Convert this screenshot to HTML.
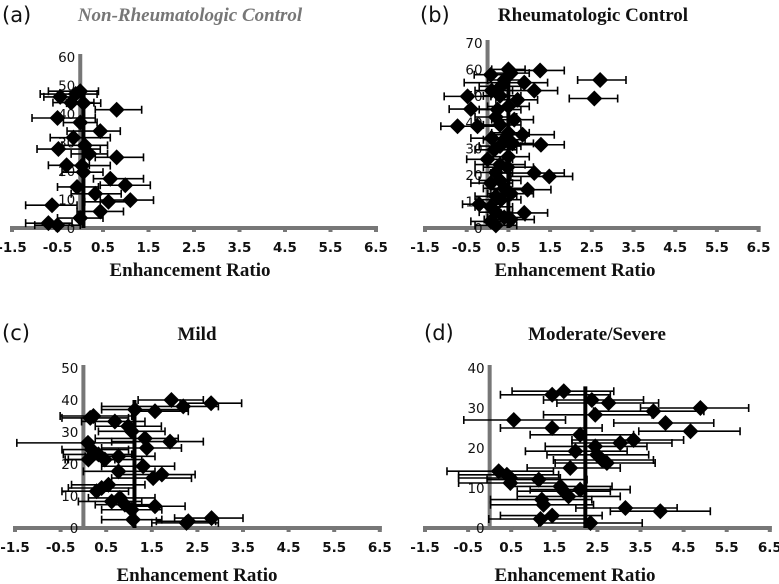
<!DOCTYPE html>
<html><head><meta charset="utf-8"><style>
html,body{margin:0;padding:0;background:#fff;width:779px;height:584px;overflow:hidden}
svg{display:block}
.tk{font-family:"DejaVu Sans","Liberation Sans",sans-serif;font-size:13.5px;fill:#111}
.xt{font-weight:bold}
.ttl{font-family:"Liberation Serif",serif;font-weight:bold;font-size:19px}
.lt{font-family:"DejaVu Sans","Liberation Sans",sans-serif;font-size:21px;fill:#111}
</style></head><body>
<svg id="fig" width="779" height="584" viewBox="0 0 779 584" xmlns="http://www.w3.org/2000/svg">
<text class="lt" x="2" y="22">(a)</text>
<text class="ttl" x="190" y="21" text-anchor="middle" fill="#777" font-style="italic">Non-Rheumatologic Control</text>
<text class="lt" x="420" y="22">(b)</text>
<text class="ttl" x="593" y="21" text-anchor="middle" fill="#111">Rheumatologic Control</text>
<text class="lt" x="2" y="340">(c)</text>
<text class="ttl" x="197" y="340" text-anchor="middle" fill="#111">Mild</text>
<text class="lt" x="424" y="340">(d)</text>
<text class="ttl" x="597" y="340" text-anchor="middle" fill="#111">Moderate/Severe</text>
<text class="ttl" x="190" y="276" text-anchor="middle" fill="#111">Enhancement Ratio</text>
<text class="ttl" x="575" y="276" text-anchor="middle" fill="#111">Enhancement Ratio</text>
<text class="ttl" x="197" y="581" text-anchor="middle" fill="#111">Enhancement Ratio</text>
<text class="ttl" x="575" y="581" text-anchor="middle" fill="#111">Enhancement Ratio</text>
</svg>
<script>
const xTickLabels = ["-1.5","-0.5","0.5","1.5","2.5","3.5","4.5","5.5","6.5"];
const xTickValues = [-1.5,-0.5,0.5,1.5,2.5,3.5,4.5,5.5,6.5];

const aY  = [41.5,47,38.6,27.7,24.8,34,31.7,37,21.9,17.3,15,9.8,9.2,12,5.8,8,1.7,3.5,14.4,19.6,22,43.8,46,1,48,44,29,26];
const aX  = [0.8,-0.1,-0.5,-0.48,0.8,0.44,-0.15,0,0.04,0.66,0.99,1.1,0.62,0.33,0.44,-0.62,-0.7,0,-0.07,0.07,-0.3,0.07,-0.44,-0.5,0,-0.2,0.1,0.2];
const aLo = [0.33,-0.88,-1.06,-0.95,0.33,-0.29,-0.66,-0.37,-0.37,0.29,0.44,0.44,0.1,-0.2,-0.07,-1.2,-1.2,-0.5,-0.5,-0.4,-0.7,-0.3,-0.8,-1.0,-0.7,-0.6,-0.4,-0.2];
const aHi = [1.35,0.37,0.33,0.44,1.39,0.88,0.66,0.37,0.66,1.39,1.54,1.61,1.1,0.9,0.95,-0.07,-0.18,0.5,0.4,0.5,0.2,0.45,0.1,0.0,0.4,0.3,0.6,0.6];
const aMean = 0.07, aMeanTop = 48;

const bY  = [59.6,56,49,55,52,49.8,45,38.5,38.5,35.3,31.5,20.8,19.5,14.5,58,58.6,2.5,3.2,5.7,10.7,29.6,33.4,44.8,41,26,23,17,13,8,48.5,53.6,9,1,4,6,12,15,18,21,24,27,31,34,36,39,42,46,50,52,56,60,32];
const bX  = [1.26,2.7,2.56,0.88,1.12,-0.48,-0.4,-0.72,-0.24,0.84,1.28,1.12,1.48,0.96,0.08,0.56,0.08,0.56,0.88,0.32,0.16,0.4,0.24,0.64,0,0.48,0.08,0.56,0.08,0.72,0.32,-0.2,0.2,0.4,0.2,0.2,0.4,0.3,0.2,0.3,0.5,0.3,0.1,0.5,0.3,0.2,0.5,0.3,0.1,0.4,0.5,0.6];
const bLo = [0.56,2.16,1.96,-0.56,0.08,-1.04,-0.92,-1.12,-0.7,0.08,0.32,0.08,0.56,0.08,-0.32,0.1,-0.4,-0.08,0.32,-0.2,-0.3,-0.1,-0.2,0.1,-0.5,-0.1,-0.4,0,-0.3,0.2,-0.2,-0.6,-0.3,0,-0.2,-0.3,-0.1,-0.2,-0.3,-0.3,0,-0.2,-0.4,0.1,-0.1,-0.3,0,-0.1,-0.3,0,0.1,0.2];
const bHi = [1.84,3.32,3.12,1.44,1.68,0.08,0.32,-0.24,0.3,1.6,1.84,1.84,2.04,1.52,0.48,1.0,0.5,1.12,1.44,0.8,0.7,0.9,0.8,1.1,0.6,1.1,0.6,1.1,0.6,1.2,0.8,0.3,0.7,0.9,0.6,0.7,0.9,0.8,0.6,0.9,1.0,0.8,0.5,1.0,0.8,0.7,1.0,0.8,0.6,0.9,0.9,1.1];
const bMean = 0.5, bMeanTop = 61;

const cY  = [40,39,38,37,36.5,35,34.4,33.3,31.8,30.2,28,27,26.6,25,24.5,23,22.4,21.4,21.4,19.3,17.7,16.7,15.6,13.5,12.5,11.5,9.4,8.3,7.3,6.8,5.7,2.6,3.1,1.6,2.1];
const cX  = [1.93,2.8,2.19,1.13,1.57,0.22,0.15,0.69,0.98,1.06,1.35,1.9,0.1,1.39,0.18,0.33,0.77,0.11,0.47,1.31,0.77,1.72,1.53,0.55,0.4,0.29,0.8,0.62,0.91,1.57,1.06,1.09,2.81,2.26,2.3];
const cLo = [1.2,2.12,0.4,0.4,1.06,-0.51,-0.47,-0.04,0.26,0.33,0.26,0.62,-1.46,0.4,-0.47,-0.44,0.04,-0.4,-0.33,0.4,0,0.77,0.62,-0.26,-0.33,-0.47,0.11,-0.11,0.26,0.91,0.4,0.4,2.0,1.5,1.6];
const cHi = [2.63,3.47,2.96,2.3,2.3,1.06,0.99,1.35,1.71,1.79,2.08,2.63,1.13,2.15,0.99,1.06,1.57,0.69,1.28,2.0,1.57,2.45,2.37,1.35,1.13,0.99,1.57,1.28,1.57,2.23,1.72,1.72,3.5,2.96,2.9];
const cMean = 1.12, cMeanTop = 40;

const dY  = [33.3,34.2,32,31.25,30,29.2,28.3,27,26.25,25,24.2,23.3,22,21.25,20.4,19.2,18.3,17,16.25,15,14.2,13.3,12.5,12.1,11.25,10.4,9.6,9.2,7.9,7.1,5.8,5,4.2,3.1,2.25,1.25];
const dX  = [1.45,1.72,2.37,2.76,4.89,3.8,2.45,0.56,4.08,1.45,4.66,2.1,3.34,3.03,2.45,1.99,2.49,2.61,2.72,1.87,0.21,0.4,0.48,1.14,0.48,1.64,2.1,1.72,1.83,1.21,1.25,3.15,3.96,1.45,1.18,2.34];
const dLo = [0.25,0.52,1.25,1.56,3.5,2.41,1.25,-0.6,2.88,0.25,3.46,0.94,1.91,1.91,1.29,0.83,1.33,1.48,1.52,0.87,-0.99,-0.72,-0.72,-0.06,-0.72,0.48,0.94,0.64,0.64,0.02,0.02,2.0,2.8,0.25,-0.02,1.14];
const dHi = [2.8,2.88,3.57,3.92,6.01,4.97,3.77,1.76,5.2,2.61,5.81,3.34,4.5,4.23,3.65,3.19,3.69,3.8,3.84,3.03,1.48,1.6,1.64,2.26,1.64,2.84,3.26,2.8,3.03,2.37,2.41,4.35,5.12,2.61,2.34,3.54];
const dMean = 2.22, dMeanTop = 35.4;

const svg = document.getElementById('fig');
const NS = 'http://www.w3.org/2000/svg';
function mk(tag, attrs){const e=document.createElementNS(NS,tag);for(const k in attrs)e.setAttribute(k,attrs[k]);svg.appendChild(e);return e;}

function panel(id, g, ys, xs, los, his, mean, meanTop){
  const xS = v => g.x0 + (v + 1.5) * g.ppu;
  const yS = v => g.axisY - v / g.yMax * (g.axisY - g.topPx);
  const ax0 = xS(0);
  let e = mk('line',{x1:ax0,x2:ax0,y1:g.topPx-3,y2:g.axisY,stroke:'#777','stroke-width':4});
  
  
  e = mk('line',{x1:xS(-1.5)-2,x2:xS(6.5)+2,y1:g.axisY,y2:g.axisY,stroke:'#777','stroke-width':4});
  
  
  xTickValues.forEach((v,i)=>{
    const t = mk('rect',{x:xS(v)-2,y:g.axisY-2,width:4,height:6,fill:'#777'});
    
    
    const l = mk('text',{x:xS(v),y:g.axisY+24,'text-anchor':'middle',class:'tk xt'});
    l.textContent = xTickLabels[i];
    
    
  });
  for(let v=0; v<=g.yMax; v+=10){
    const l = mk('text',{x:ax0-5,y:yS(v)+5,'text-anchor':'end',class:'tk'});
    l.textContent = String(v);
    
    
  }
  e = mk('line',{x1:xS(mean),x2:xS(mean),y1:yS(meanTop),y2:g.axisY,stroke:'#000','stroke-width':4});
  
  
  ys.forEach((yv,i)=>{
    const y = yS(yv), l = xS(los[i]), h = xS(his[i]);
    const eb = mk('path',{d:`M${l},${y}H${h}M${l},${y-4}V${y+4}M${h},${y-4}V${y+4}`,stroke:'#000','stroke-width':1.6,fill:'none'});
    
    
  });
  ys.forEach((yv,i)=>{
    const y = yS(yv), x = xS(xs[i]), r = 8;
    const p = mk('path',{d:`M${x},${y-r}L${x+r},${y}L${x},${y+r}L${x-r},${y}Z`,fill:'#000'});
    
    
  });
}
panel('panel-a',{x0:12,ppu:45.5,axisY:228,topPx:57,yMax:60},aY,aX,aLo,aHi,aMean,aMeanTop);
panel('panel-b',{x0:425,ppu:41.7,axisY:228,topPx:43,yMax:70},bY,bX,bLo,bHi,bMean,bMeanTop);
panel('panel-c',{x0:15,ppu:45.6,axisY:528,topPx:368,yMax:50},cY,cX,cLo,cHi,cMean,cMeanTop);
panel('panel-d',{x0:425,ppu:43.1,axisY:528,topPx:368,yMax:40},dY,dX,dLo,dHi,dMean,dMeanTop);
</script>
</body></html>
